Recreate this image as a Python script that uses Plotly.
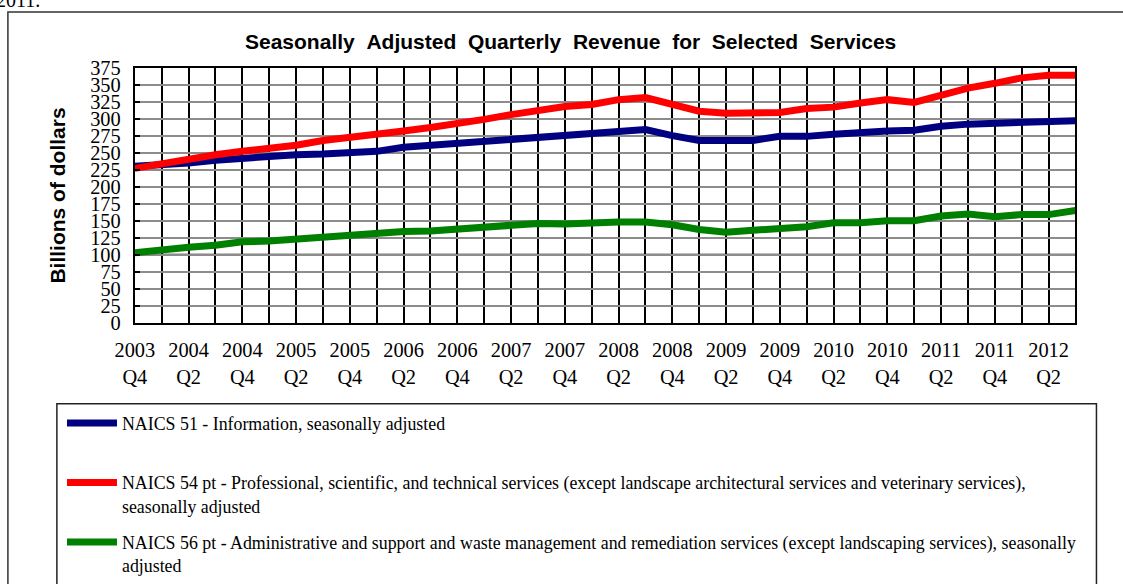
import plotly.graph_objects as go

# ---------------- data ----------------
quarters = [
    "2003 Q4", "2004 Q1", "2004 Q2", "2004 Q3", "2004 Q4",
    "2005 Q1", "2005 Q2", "2005 Q3", "2005 Q4",
    "2006 Q1", "2006 Q2", "2006 Q3", "2006 Q4",
    "2007 Q1", "2007 Q2", "2007 Q3", "2007 Q4",
    "2008 Q1", "2008 Q2", "2008 Q3", "2008 Q4",
    "2009 Q1", "2009 Q2", "2009 Q3", "2009 Q4",
    "2010 Q1", "2010 Q2", "2010 Q3", "2010 Q4",
    "2011 Q1", "2011 Q2", "2011 Q3", "2011 Q4",
    "2012 Q1", "2012 Q2", "2012 Q3",
]

naics51 = [230, 232, 235, 239, 242, 245, 247, 248, 249, 252, 258, 261,
           264, 266, 270, 273, 275, 278, 281, 284, 275, 268, 268, 268,
           274, 274, 277, 280, 282, 283, 289, 292, 293, 295, 297, 297]

naics54 = [227, 234, 240, 247, 252, 256, 261, 268, 272, 277, 282, 287,
           292, 299, 306, 313, 318, 321, 328, 331, 322, 311, 308, 308,
           309, 315, 317, 323, 328, 324, 334, 345, 352, 360, 364, 364]

naics56 = [103, 108, 111, 114, 119, 120, 123, 127, 130, 133, 134, 135,
           138, 141, 144, 146, 145, 147, 148, 148, 144, 137, 133, 136,
           139, 141, 147, 147, 150, 150, 157, 160, 156, 159, 159, 165]

series_names = [
    "NAICS 51 - Information, seasonally adjusted",
    "NAICS 54 pt - Professional, scientific, and technical services (except landscape architectural services and veterinary services),<br>seasonally adjusted",
    "NAICS 56 pt - Administrative and support and waste management and remediation services (except landscaping services), seasonally<br>adjusted",
]

y_ticks = [0, 25, 50, 75, 100, 125, 150, 175, 200, 225, 250, 275, 300, 325, 350, 375]

chart_title = "Seasonally Adjusted Quarterly Revenue for Selected Services"
y_title = "Billions of dollars"

# ---------------- layout helpers ----------------
W, H = 1123, 584

# the captured picture shows the page slightly scaled and offset;
# convert target picture pixels into page pixels
SX, OX = 0.9826, 20.1
SY, OY = 0.955, 10.0


def X(xr):
    return (xr - OX) / SX


def Y(yr):
    return (yr - OY) / SY


def px(xr):
    return X(xr) / W


def py(yr):
    return 1 - Y(yr) / H


FS = 1.02

colors = ["#000080", "#FF0000", "#008000"]
series = [naics51, naics54, naics56]

tick_text = [q.replace(" ", "<br>") if i % 2 == 0 else "" for i, q in enumerate(quarters)]

fig = go.Figure()
for i, (name, vals) in enumerate(zip(series_names, series)):
    label = name if i != 0 else name + "<br> "
    fig.add_trace(go.Scatter(
        x=quarters, y=vals, mode="lines", name=label,
        line=dict(color=colors[i], width=7),
        legendgroup=f"g{i}",
    ))

serif = "Liberation Serif, Times New Roman, serif"
sans = "Liberation Sans, Arial, sans-serif"

title_html = "<b>" + chart_title.replace(" ", " \u00a0") + "</b>"

fig.update_layout(
    width=W, height=H, autosize=False,
    margin=dict(l=0, r=0, t=0, b=0),
    paper_bgcolor="white", plot_bgcolor="white",
    showlegend=True,
    legend=dict(
        x=px(68) - 6 / W, y=py(432) + 19.7 / H, xanchor="left", yanchor="top",
        font=dict(family=serif, size=17.5 * FS, color="black"),
        bgcolor="rgba(0,0,0,0)", borderwidth=0,
        tracegroupgap=10, valign="top", itemwidth=50,
        traceorder="grouped",
    ),
    xaxis=dict(
        domain=[px(135), px(1076)],
        type="category",
        range=[0, len(quarters) - 1],
        tickmode="array", tickvals=quarters, ticktext=tick_text,
        showgrid=True, gridcolor="black", gridwidth=1.5,
        showline=True, linecolor="black", linewidth=2, mirror=True,
        ticks="", tickfont=dict(family=serif, size=20 * FS, color="black"),
        ticklabelstandoff=8,
        zeroline=False,
    ),
    yaxis=dict(
        domain=[py(329), py(68)],
        range=[0, 375],
        tickmode="array", tickvals=y_ticks,
        showgrid=True, gridcolor="#8c8c8c", gridwidth=2,
        showline=True, linecolor="black", linewidth=2, mirror=True,
        ticks="inside", ticklen=5, tickcolor="black", tickwidth=2,
        tickfont=dict(family=serif, size=20 * FS, color="black"),
        ticklabelstandoff=8,
        zeroline=False,
    ),
    shapes=[
        # outer frame
        dict(type="rect", xref="paper", yref="paper",
             x0=px(8), y0=1 - 1.0 / H, x1=px(1160), y1=py(620),
             line=dict(color="#333333", width=1.5), layer="below"),
        # legend box
        dict(type="rect", xref="paper", yref="paper",
             x0=px(57), y0=py(412), x1=px(1097), y1=py(620),
             line=dict(color="#222222", width=1.5), layer="below"),
        # darker reference line at 100
        dict(type="line", xref="x domain", yref="y",
             x0=0, x1=1, y0=100, y1=100,
             line=dict(color="black", width=2), layer="below"),
    ],
    annotations=[
        dict(text=title_html, xref="paper", yref="paper",
             x=px(571), y=py(41), xanchor="center", yanchor="middle",
             showarrow=False, font=dict(family=sans, size=21, color="black")),
        dict(text="<b>" + y_title + "</b>", xref="paper", yref="paper",
             x=px(58), y=py(199), xanchor="center", yanchor="middle",
             textangle=-90, showarrow=False,
             font=dict(family=sans, size=21, color="black")),
        dict(text="2011.", xref="paper", yref="paper",
             x=px(-6), y=py(12), xanchor="left", yanchor="bottom",
             showarrow=False, font=dict(family=serif, size=20, color="black")),
    ],
)

fig.write_html(
    "out.html",
    config={"displayModeBar": False},
    post_script="document.body.style.margin='0px';"
                "document.documentElement.style.overflow='hidden';",
)
